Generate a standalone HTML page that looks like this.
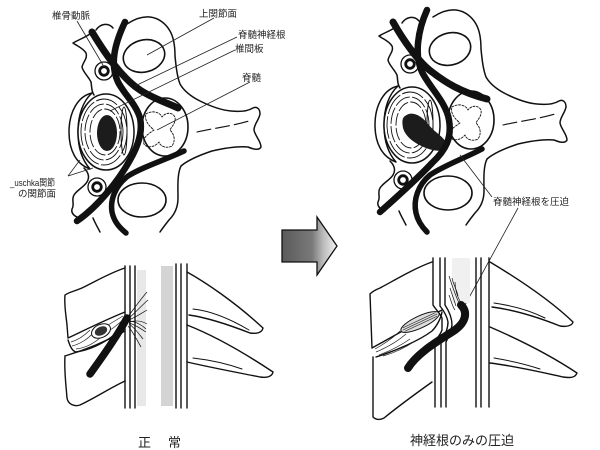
<!DOCTYPE html>
<html><head><meta charset="utf-8"><style>
html,body{margin:0;padding:0;background:#fff;}
svg{display:block;}
text{font-family:"Liberation Sans","Noto Sans CJK JP",sans-serif;fill:#222;}
</style></head><body>
<svg width="600" height="450" viewBox="0 0 600 450" xmlns="http://www.w3.org/2000/svg">
<defs>
<linearGradient id="arr" x1="0" y1="0" x2="1" y2="0">
<stop offset="0" stop-color="#5a5a5a"/><stop offset="0.55" stop-color="#7a7a7a"/><stop offset="0.75" stop-color="#bbb"/><stop offset="1" stop-color="#f4f4f4"/>
</linearGradient>
<g id="tv" fill="none" stroke="#111" stroke-width="1.5" stroke-linecap="round" stroke-linejoin="round">
 <path d="M127,24 C133,20 141,16 150,17 C159,18 166,24 170,31 C174,38 175,47 175,56 C176,66 177,76 180,84 C184,91 192,97 200,101 C210,106 220,110 231,111 C240,112 248,111 253,108 C257,106 260,109 260,114 C259,120 254,124 254,130 C255,136 261,141 261,147 C259,151 253,149 248,147 C238,146 225,148 212,151 C200,155 188,160 181,166 C177,174 178,188 178,198 C178,207 175,214 169,220 C165,225 162,229 160,232"/>
 <path d="M197,132 C215,128 232,126 249,121" stroke-dasharray="14,5" stroke-width="1.1"/>
 <path d="M96,30 C100,24 108,22 113,28"/>
 <path d="M90,34 C84,38 78,40 73,43 C77,46 83,48 86,53 C88,58 83,62 82,67 C83,72 88,76 91,82 C92,87 91,91 94,95"/>
 <path d="M84,168 C88,172 90,177 87,182 C84,187 77,190 74,195 C71,200 75,204 72,209 C71,213 74,216 79,218"/>
 <path d="M93,218 C95,223 98,228 100,232"/>
 <!-- disc -->
 <path d="M92,93 C78,96 69,112 69,132 C69,150 76,164 90,169 C82,160 78,148 78,132 C78,115 83,101 92,93 Z" fill="#fff"/>
 <ellipse cx="106" cy="132" rx="28" ry="38" fill="#fff"/>
 <ellipse cx="104" cy="132" rx="23" ry="33" stroke-width="0.9" stroke-dasharray="22,3"/>
 <ellipse cx="104" cy="132" rx="19" ry="28" stroke-width="0.9" stroke-dasharray="16,3"/>
 <ellipse cx="105" cy="132" rx="15" ry="23" stroke-width="0.9" stroke-dasharray="12,3"/>
 <ellipse cx="124" cy="131" rx="3" ry="24" stroke-width="1"/>
 <!-- cord -->
 <ellipse cx="165" cy="127" rx="23" ry="29" fill="#fff" stroke-width="1.6"/>
 <path d="M146,114 C152,110 160,112 162,117 C166,112 172,112 175,117 C176,123 172,126 170,130 C174,134 176,140 172,146 C166,149 160,146 159,142 C154,148 146,148 144,144 C142,138 148,134 154,130 C149,126 144,120 146,114 Z" stroke-width="0.9" stroke-dasharray="2,1.5"/>
 <!-- facets -->
 <ellipse cx="144" cy="56" rx="21" ry="16" transform="rotate(-15 144 56)" stroke-width="1.6"/>
 <ellipse cx="142" cy="200" rx="24" ry="17" stroke-width="1.6"/>
 <!-- vertebral artery foramina -->
 <circle cx="104" cy="71" r="9" fill="#fff" stroke-width="1.3"/>
 <circle cx="104" cy="71" r="4.3" stroke-width="2.8"/>
 <circle cx="97" cy="187" r="9" fill="#fff" stroke-width="1.3"/>
 <circle cx="97" cy="187" r="4.3" stroke-width="2.8"/>
</g>
</defs>

<!-- TOP LEFT -->
<use href="#tv"/>
<ellipse cx="107" cy="133" rx="10" ry="18" fill="#1c1c1c"/>
<g fill="none" stroke="#111" stroke-linecap="round">
<path d="M92,32 C106,55 122,78 140,90 C152,98 165,102 178,108" stroke-width="7"/>
<path d="M125,22 C114,45 110,65 118,82 C124,94 136,104 140,118 C143,132 138,146 130,160 C120,178 100,205 77,221" stroke-width="6.5"/>
<path d="M184,151 C165,160 142,167 128,176 C115,186 110,200 112,212 C114,222 120,228 126,233" stroke-width="5.5"/>
</g>
<g stroke="#222" stroke-width="0.8" fill="none">
<path d="M77,21 L103,65"/>
<path d="M214,18 L147,55"/>
<path d="M237,37 L135,86"/>
<path d="M235,50 L110,111"/>
<path d="M250,82 L157,130"/>
<path d="M68,176 L80,160"/>
<path d="M68,176 L93,168"/>
</g>
<text x="52" y="19" font-size="9.5">椎骨動脈</text>
<text x="199" y="17" font-size="9.5">上関節面</text>
<text x="238" y="38" font-size="9.5">脊髄神経根</text>
<text x="235" y="52" font-size="9.5">椎間板</text>
<text x="242" y="81" font-size="9.5">脊髄</text>
<text x="10" y="186" font-size="9.5" textLength="45" lengthAdjust="spacingAndGlyphs">_uschka関節</text>
<text x="18" y="197" font-size="9.5">の関節面</text>

<!-- TOP RIGHT -->
<use href="#tv" transform="translate(306,-7)"/>
<path d="M405,116 C412,110 422,116 428,124 C434,132 446,138 447,145 C446,152 436,152 426,148 C416,144 406,138 403,128 C402,122 402,118 405,116 Z" fill="#1c1c1c"/>
<g fill="none" stroke="#111" stroke-linecap="round">
<path d="M393,22 C402,38 418,62 432,72 C445,82 460,92 487,99" stroke-width="7"/>
<path d="M427,10 C418,30 414,55 422,72 C430,88 446,102 449,120 C452,138 446,150 432,163 C418,178 398,196 380,212" stroke-width="6.5"/>
<path d="M482,149 C465,158 445,165 430,175 C418,185 413,200 416,213 C418,222 423,228 427,232" stroke-width="5.5"/>
</g>
<g stroke="#222" stroke-width="0.8" fill="none">
<path d="M460,155 L492,197"/>
<path d="M518,208 L465,305"/>
</g>
<text x="493" y="205" font-size="9.5">脊髄神経根を圧迫</text>

<!-- ARROW -->
<path d="M282,230 L317,230 L317,217 L337,246 L317,275 L317,262 L282,262 Z" fill="url(#arr)" stroke="#111" stroke-width="1.3" stroke-linejoin="miter"/>

<!-- BOTTOM LEFT -->
<rect x="137" y="270" width="9" height="136" fill="#e8e8e8"/>
<rect x="161" y="266" width="12" height="140" fill="#d4d4d4"/>
<g fill="none" stroke="#111" stroke-width="1.4" stroke-linecap="round" stroke-linejoin="round">
 <path d="M125,266 L125,408 M130,266 L130,408 M135,266 L135,408"/>
 <path d="M176,264 L176,408 M181,264 L181,408 M187,264 L187,408"/>
 <path d="M125,268 C112,272 98,280 84,287 C76,291 69,292 65,295 C64,305 66,315 67,325 L68,338 C85,330 105,320 125,312"/>
 <path d="M68,340 C70,346 72,351 76,352 C90,350 104,343 114,335 C119,330 122,324 125,318" fill="#fff"/>
 <path d="M65,356 C85,350 105,342 125,331"/>
 <path d="M65,356 C64,370 66,385 67,398 C68,404 74,407 80,405 C95,398 110,388 125,381"/>
 <path d="M187,272 C205,282 235,302 263,328 C262,333 256,334 250,333 C232,326 210,318 189,315"/>
 <path d="M193,309 C212,311 232,320 249,330" stroke-width="1"/>
 <path d="M187,325 C210,334 240,350 273,372 C272,377 266,378 260,377 C240,373 213,368 187,362"/>
 <path d="M193,358 C210,360 228,364 242,369" stroke-width="1"/>
</g>
<g fill="none" stroke="#222" stroke-width="0.7">
 <path d="M72,346 C80,344 88,339 93,333"/>
 <path d="M76,349 C86,348 94,343 100,338"/>
 <path d="M71,342 C78,340 84,336 90,330"/>
 <path d="M108,325 C113,322 118,319 123,316"/>
 <path d="M110,330 C115,327 119,323 123,320"/>
</g>
<ellipse cx="101" cy="331" rx="10" ry="6.5" transform="rotate(-25 101 331)" fill="#fff" stroke="#111" stroke-width="1"/>
<ellipse cx="101" cy="331" rx="6.5" ry="4.3" transform="rotate(-25 101 331)" fill="#333"/>
<path d="M90,374 C100,360 115,340 127,318" fill="none" stroke="#111" stroke-width="7.5" stroke-linecap="round"/>
<g fill="none" stroke="#111" stroke-width="0.7">
 <path d="M127,318 C133,310 140,300 147,292"/>
 <path d="M128,319 C135,313 141,306 148,300"/>
 <path d="M129,320 C136,317 142,313 147,310"/>
 <path d="M129,322 C136,320 142,321 147,324"/>
 <path d="M129,323 C136,325 141,329 146,332"/>
 <path d="M129,324 C135,328 139,334 143,339"/>
 <path d="M128,326 C133,332 137,340 141,347"/>
 <path d="M130,321 C137,322 143,326 146,329"/>
</g>
<text x="138" y="447" font-size="13">正</text>
<text x="168" y="447" font-size="13">常</text>

<!-- BOTTOM RIGHT -->
<rect x="452" y="258" width="18" height="45" fill="#f0f0f0"/>
<g fill="none" stroke="#111" stroke-width="1.4" stroke-linecap="round" stroke-linejoin="round">
 <path d="M433,258 L433,305 C436,310 440,313 442,318 L442,330 C440,336 435,339 435,345 L435,407"/>
 <path d="M440,258 L440,306 C444,311 447,316 448,322 C448,330 444,336 441,342 L441,407"/>
 <path d="M445,258 L445,305 C449,311 452,318 452,325 C451,332 448,338 446,342 L446,407"/>
 <path d="M476,258 L476,407 M481,258 L481,407 M489,258 L489,407"/>
 <path d="M432,262 C415,268 395,280 380,288 C375,290 372,292 370,294 L372,348 C392,337 418,322 442,310"/>
 <path d="M376,357 C398,350 420,340 432,331 C437,326 441,318 442,312"/>
 <path d="M373,357 L373,417 C376,420 380,420 384,418 C400,405 418,392 432,382"/>
 <path d="M490,262 C520,280 550,300 573,322 C572,326 566,327 560,326 C540,318 515,310 492,307"/>
 <path d="M494,303 C515,306 533,312 545,318" stroke-width="1"/>
 <path d="M490,327 C520,340 550,355 577,373 C575,378 570,378 563,377 C540,372 515,366 490,363"/>
 <path d="M494,358 C512,361 528,365 540,369" stroke-width="1"/>
</g>
<g fill="none" stroke="#222" stroke-width="0.7">
 <path d="M376,352 C388,347 398,341 406,334"/>
 <path d="M379,355 C390,351 400,346 410,339"/>
 <path d="M375,349 C384,344 393,338 400,331"/>
 <path d="M383,356 C394,353 405,348 415,341"/>
</g>
<ellipse cx="420" cy="322" rx="21" ry="6" transform="rotate(-25 420 322)" fill="#ddd" stroke="#111" stroke-width="1"/>
<g stroke="#333" stroke-width="0.7" transform="rotate(-25 420 322)">
 <path d="M402,320 L438,320 M401,322 L439,322 M402,324 L438,324"/>
</g>
<g fill="none" stroke="#111" stroke-width="0.7">
 <path d="M449,276 C452,285 455,295 460,305"/>
 <path d="M452,278 C453,284 457,290 458,296"/>
 <path d="M455,282 C455,290 458,298 461,303"/>
 <path d="M450,288 C452,294 454,300 456,306"/>
 <path d="M449,295 C451,300 452,306 455,310"/>
</g>
<path d="M408,368 C418,352 440,340 455,330 C466,322 468,312 461,305" fill="none" stroke="#111" stroke-width="8" stroke-linecap="round"/>
<text x="410" y="445" font-size="13">神経根のみの圧迫</text>
</svg>
</body></html>
